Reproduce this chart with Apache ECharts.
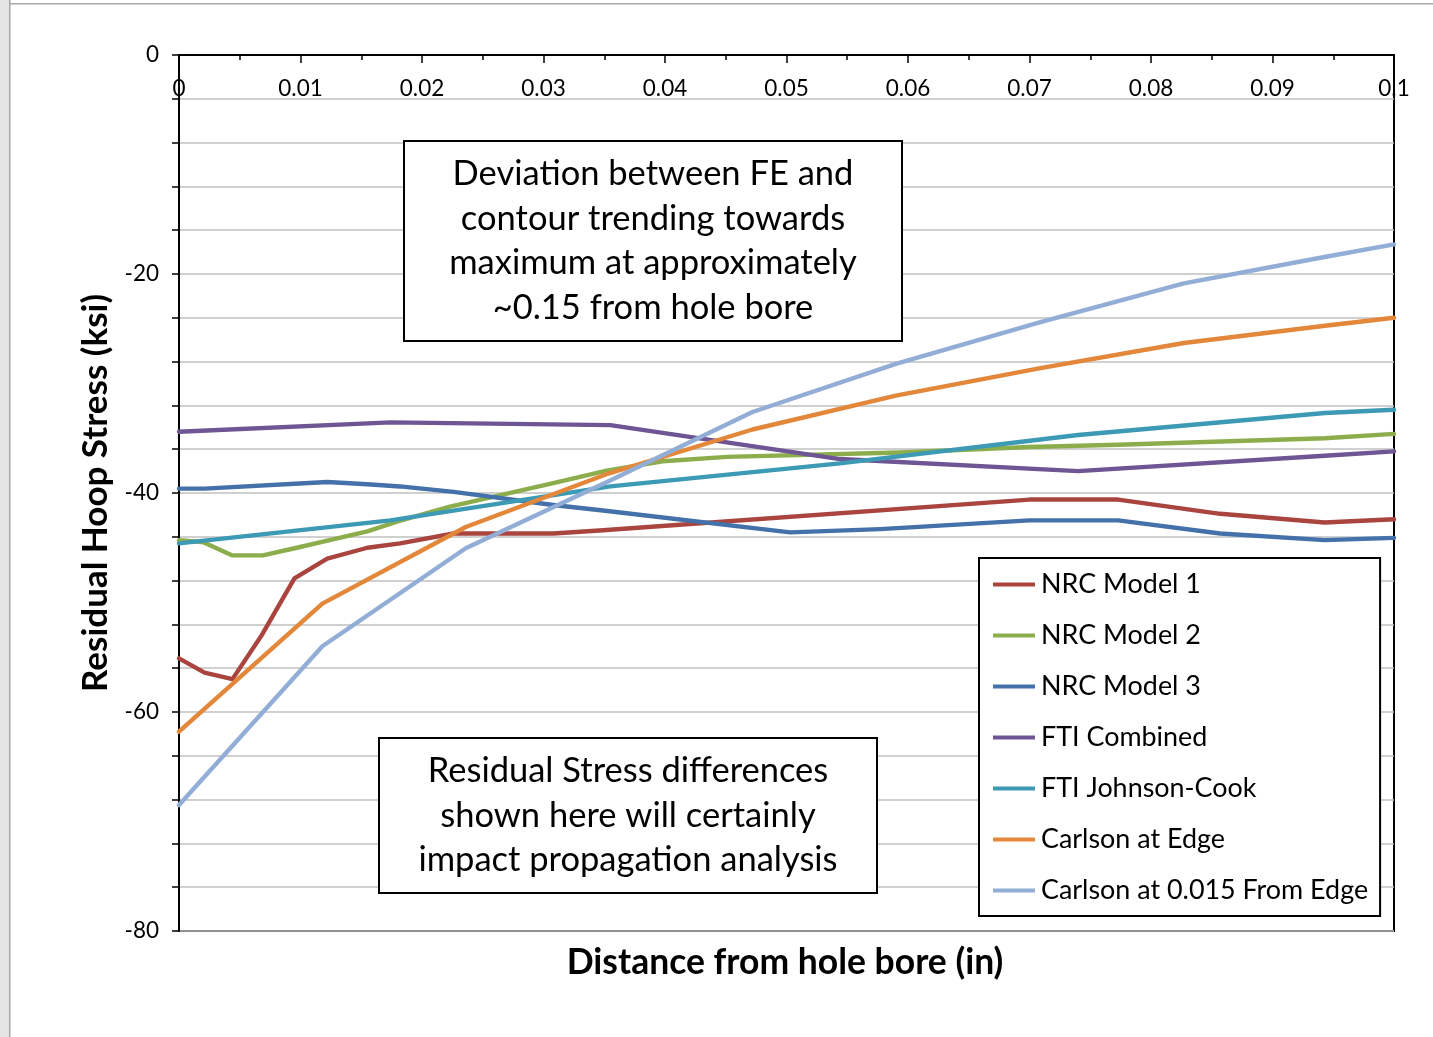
<!DOCTYPE html>
<html>
<head>
<meta charset="utf-8">
<script src="https://cdn.jsdelivr.net/npm/echarts@6/dist/echarts.min.js"></script>
<style>
  html, body { margin: 0; padding: 0; background: #fff; }
  #chart { width: 1433px; height: 1037px; }
</style>
</head>
<body>
<div id="chart"></div>
<script>
// Residual hoop stress (ksi) vs distance from the hole bore (in)
const seriesNames = [
  'NRC Model 1', 'NRC Model 2', 'NRC Model 3',
  'FTI Combined', 'FTI Johnson-Cook',
  'Carlson at Edge', 'Carlson at 0.015 From Edge'
];

const nrc1X = [0, 0.0021, 0.0044, 0.0068, 0.0095, 0.0122, 0.0155, 0.0182, 0.0226, 0.0308, 0.0349, 0.070, 0.0773, 0.0857, 0.0943, 0.1];
const nrc1Y = [-55.1, -56.4, -57.0, -53.0, -47.8, -46.0, -45.0, -44.6, -43.7, -43.7, -43.4, -40.6, -40.6, -41.9, -42.7, -42.4];

const nrc2X = [0, 0.0020, 0.0044, 0.0069, 0.0097, 0.0124, 0.0155, 0.0180, 0.0223, 0.0308, 0.0352, 0.0398, 0.0451, 0.0593, 0.070, 0.0773, 0.0943, 0.1];
const nrc2Y = [-44.3, -44.5, -45.7, -45.7, -45.0, -44.3, -43.5, -42.6, -41.25, -39.1, -37.95, -37.1, -36.7, -36.3, -35.8, -35.6, -35.0, -34.6];

const nrc3X = [0, 0.0021, 0.0122, 0.0155, 0.0182, 0.0226, 0.0308, 0.0349, 0.0503, 0.0577, 0.070, 0.0773, 0.0857, 0.0943, 0.1];
const nrc3Y = [-39.6, -39.6, -39.0, -39.2, -39.4, -39.9, -41.1, -41.6, -43.6, -43.3, -42.5, -42.5, -43.7, -44.3, -44.1];

const ftiX = [0, 0.0174, 0.0355, 0.0544, 0.0740, 0.0943, 0.1];
const ftiCombinedY = [-34.4, -33.55, -33.8, -36.9, -38.0, -36.6, -36.2];
const ftiJohnsonCookY = [-44.6, -42.5, -39.4, -37.3, -34.7, -32.7, -32.4];

const carlsonX = [0, 0.0118, 0.0236, 0.0354, 0.0472, 0.0590, 0.0709, 0.0827, 0.0945, 0.1];
const carlsonEdgeY = [-61.8, -50.1, -43.1, -38.2, -34.2, -31.1, -28.6, -26.3, -24.7, -24.0];
const carlson015Y = [-68.5, -54.0, -45.05, -38.9, -32.6, -28.2, -24.4, -20.85, -18.4, -17.3];

const seriesColors = ['#A9443F', '#8CAD4C', '#4471A9', '#6E5594', '#3D9AB4', '#E3873A', '#93AED6'];

const xTickLabels = ['0', '0.01', '0.02', '0.03', '0.04', '0.05', '0.06', '0.07', '0.08', '0.09', '0.1'];
const yTickLabels = ['0', '-20', '-40', '-60', '-80'];

const noteTop = ['Deviation between FE and', 'contour trending towards', 'maximum at approximately', '~0.15 from hole bore'];
const noteBottom = ['Residual Stress differences', 'shown here will certainly', 'impact propagation analysis'];

const FONT = 'Lato, "Open Sans", sans-serif';

function pairs(xs, ys) { return xs.map((x, i) => [x, ys[i]]); }

const seriesData = [
  pairs(nrc1X, nrc1Y),
  pairs(nrc2X, nrc2Y),
  pairs(nrc3X, nrc3Y),
  pairs(ftiX, ftiCombinedY),
  pairs(ftiX, ftiJohnsonCookY),
  pairs(carlsonX, carlsonEdgeY),
  pairs(carlsonX, carlson015Y)
];

const chart = echarts.init(document.getElementById('chart'), null, { renderer: 'canvas' });

// white text box with a black outline, drawn above the grid lines and series
function noteBox(x, y, w, h, lines, lh) {
  return {
    type: 'group', left: x, top: y, z: 100,
    children: [
      { type: 'rect', z: 100, shape: { x: 0, y: 0, width: w, height: h },
        style: { fill: '#fff', stroke: '#000', lineWidth: 2 } },
      { type: 'text', z: 101, x: w / 2, y: h / 2,
        style: { text: lines.join('\n'), font: '34.5px ' + FONT, fill: '#000',
                 textAlign: 'center', textVerticalAlign: 'middle', lineHeight: lh } }
    ]
  };
}

chart.setOption({
  animation: false,
  backgroundColor: '#fff',
  grid: {
    left: 179, top: 55, right: 39, bottom: 106,
    show: true, borderColor: '#000', borderWidth: 2, backgroundColor: 'transparent'
  },
  xAxis: {
    type: 'value', position: 'top', min: 0, max: 0.1, interval: 0.01,
    axisLine: { show: true, onZero: false, lineStyle: { color: '#000', width: 2 } },
    axisTick: { show: true, inside: true, length: 8, lineStyle: { color: '#000', width: 1.5 } },
    minorTick: { show: true, splitNumber: 2, length: 5, lineStyle: { color: '#000', width: 1.5 } },
    axisLabel: {
      inside: true, margin: 22, fontFamily: FONT, fontSize: 22.5, color: '#000',
      formatter: v => xTickLabels[Math.round(v * 100)] || ''
    },
    splitLine: { show: false }
  },
  yAxis: {
    type: 'value', min: -80, max: 0, interval: 4,
    name: 'Residual Hoop Stress (ksi)', nameLocation: 'middle', nameGap: 66,
    nameTextStyle: { fontFamily: FONT, fontWeight: 'bold', fontSize: 35, color: '#000' },
    axisLine: { show: true, onZero: false, lineStyle: { color: '#000', width: 2 } },
    axisTick: { show: true, inside: false, length: 7, lineStyle: { color: '#000', width: 1.5 } },
    axisLabel: {
      margin: 20, fontFamily: FONT, fontSize: 22.5, color: '#000',
      formatter: v => {
        const s = String(Math.round(v));
        return yTickLabels.includes(s) ? s : '';
      }
    },
    splitLine: { show: true, lineStyle: { color: '#c0c0c0', width: 1.6 } }
  },
  legend: {
    orient: 'vertical', left: 979, top: 558, z: 100,
    backgroundColor: '#fff', borderColor: '#000', borderWidth: 2,
    padding: [13, 12, 12, 14], itemGap: 24, itemWidth: 42, itemHeight: 4,
    icon: 'rect',
    textStyle: { fontFamily: FONT, fontSize: 26.9, color: '#000', lineHeight: 27, padding: [0, 0, 0, 1] },
    data: seriesNames
  },
  graphic: [
    // outer chart frame edge
    { type: 'rect', left: 0, top: 0, shape: { x: 0, y: 0, width: 9, height: 1037 }, style: { fill: '#e4e4e4' }, z: 0 },
    { type: 'rect', left: 9, top: 0, shape: { x: 0, y: 0, width: 1.5, height: 1037 }, style: { fill: '#a8a8a8' }, z: 0 },
    { type: 'rect', left: 9, top: 3, shape: { x: 0, y: 0, width: 1424, height: 1.5 }, style: { fill: '#a8a8a8' }, z: 0 },
    noteBox(403, 140, 498, 200, noteTop, 44.5),
    noteBox(378, 737, 498, 155, noteBottom, 44.5),
    // the x axis runs along the top, so its title is placed under the plot
    { type: 'text', x: 785, y: 963, z: 100,
      style: { text: 'Distance from hole bore (in)', font: 'bold 35.5px ' + FONT, fill: '#000',
               textAlign: 'center', textVerticalAlign: 'middle' } }
  ],
  series: seriesNames.map((name, i) => ({
    name, type: 'line', data: seriesData[i],
    symbol: 'none', smooth: false, z: 3 + i,
    color: seriesColors[i],
    lineStyle: { width: 4.4, color: seriesColors[i], cap: 'round', join: 'round' }
  }))
});
</script>
</body>
</html>
